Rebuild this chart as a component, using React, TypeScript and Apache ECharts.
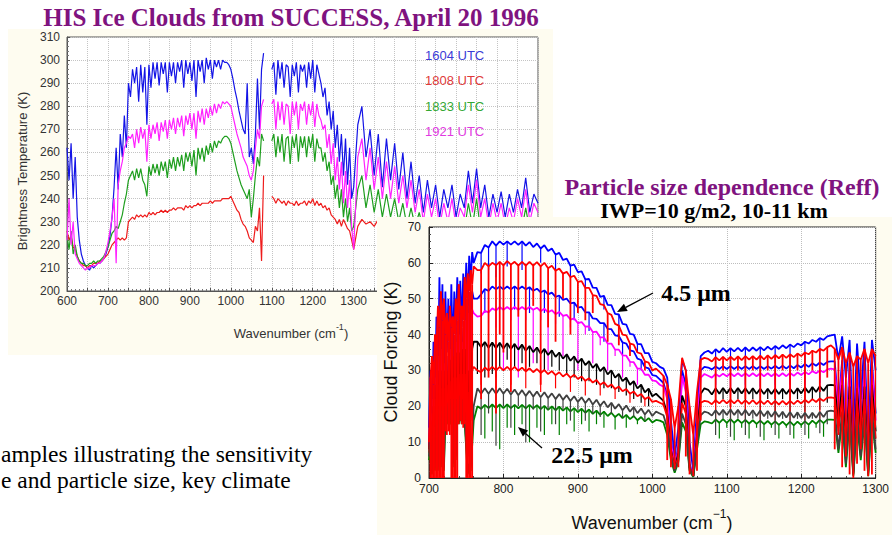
import React, { useEffect, useRef } from "react";
import * as echarts from "echarts";

// ---------- Chart 1: HIS brightness temperature spectra ----------
const wn1 = [
  600, 605, 610, 615, 620, 625, 630, 635, 640, 645,
  650, 655, 660, 665, 670, 675, 680, 685, 690, 695,
  700, 705, 710, 715, 720, 725, 730, 735, 740, 745,
  750, 755, 760, 765, 770, 775, 780, 785, 790, 795,
  800, 805, 810, 815, 820, 825, 830, 835, 840, 845,
  850, 855, 860, 865, 870, 875, 880, 885, 890, 895,
  900, 905, 910, 915, 920, 925, 930, 935, 940, 945,
  950, 955, 960, 965, 970, 975, 980, 985, 990, 995,
  1000, 1005, 1010, 1015, 1020, 1025, 1030, 1035, 1040, 1045,
  1050, 1055, 1060, 1065, 1070, 1075, 1080, 1085, 1090, 1095,
  1100, 1105, 1110, 1115, 1120, 1125, 1130, 1135, 1140, 1145,
  1150, 1155, 1160, 1165, 1170, 1175, 1180, 1185, 1190, 1195,
  1200, 1205, 1210, 1215, 1220, 1225, 1230, 1235, 1240, 1245,
  1250, 1255, 1260, 1265, 1270, 1275, 1280, 1285, 1290, 1295,
  1300,
  1310, 1320, 1330, 1340, 1350, 1360, 1370, 1380, 1390, 1400,
  1410, 1420, 1430, 1440, 1450, 1460, 1470, 1480, 1490, 1500,
  1510, 1520, 1530, 1540, 1550, 1560, 1570, 1580, 1590, 1600,
  1610, 1620, 1630, 1640, 1650, 1660, 1670, 1680, 1690, 1700,
  1710, 1720, 1730, 1740, 1750,
];

const bt1604 = [
  262, 248, 264, 240, 258, 232, 222, 216, 213, 211,
  210, 209, 211, 210, 211, 212, 212, 213, 214, 216,
  219, 224, 232, 245, 262, 244, 268, 258, 276, 262,
  290, 284, 296, 290, 297, 282, 298, 286, 297, 272,
  298, 288, 299, 292, 299, 289, 299, 294, 299, 286,
  299, 293, 299, 290, 299, 295, 300, 288, 300, 294,
  299, 291, 300, 284, 300, 295, 300, 290, 301, 296,
  300, 292, 300, 297, 300, 296, 300, 299, 299, 298,
  296, 292, 287, 283, 278, 274, 270, 268, 290, 258,
  262, 255, 268, 292, 270, 296, 303, null, null, null,
  296, 299, 285, 300, 292, 299, 288, 298, 297, 284,
  298, 293, 299, 286, 298, 295, 298, 288, 299, 292,
  300, 286, 298, 294, 290, 284, 288, 276, 282, 270,
  278, 262, 272, 256, 268, 250, 266, 246, 262, 240,
  245,
  272, 280, 258, 270, 250, 268, 245, 266, 248, 264,
  244, 260, 240, 256, 238, 250, 234, 248, 236, 246,
  232, 244, 236, 246, 232, 242, 236, 252, 238, 253,
  236, 246, 232, 242, 234, 243, 232, 242, 234, 244,
  236, 249, 234, 242, 238,
];

const bt1808 = [
  226, 222, 224, 219, 218, 215, 213, 212, 211, 211,
  210, 211, 211, 212, 212, 212, 213, 213, 214, 215,
  216, 218, 220, 221, 222, 223, 222, 223, 222, 223,
  230, 231, 232, 231, 233, 232, 233, 232, 233, 232,
  234, 233, 234, 233, 234, 234, 235, 234, 235, 234,
  235, 235, 236, 235, 236, 236, 236, 235, 237, 236,
  237, 236, 237, 237, 238, 237, 238, 238, 238, 238,
  239, 238, 239, 239, 239, 239, 240, 240, 240, 240,
  241, 239, 237, 235, 234, 231, 229, 228, 226, 223,
  222, 221, 228, 226, 236, 213, 250, null, null, null,
  241, 240, 238, 240, 239, 238, 239, 237, 239, 238,
  238, 237, 239, 237, 238, 238, 239, 237, 239, 238,
  240, 237, 239, 237, 238, 236, 237, 235, 236, 233,
  232, 231, 229, 231, 228, 231, 229, 227, 226, 222,
  218,
  228, 231, 229, 230, 228, 231, 229, 232, 228, 230,
  229, 231, 228, 230, 229, 231, 228, 230, 229, 231,
  228, 230, 229, 231, 228, 230, 229, 232, 228, 231,
  229, 230, 228, 231, 229, 230, 228, 231, 229, 230,
  228, 231, 229, 230, 229,
];

const bt1833 = [
  224, 218, 226, 216, 220, 215, 213, 212, 212, 211,
  211, 212, 212, 213, 212, 213, 213, 214, 215, 217,
  219, 222, 225, 226, 228, 227, 230, 233, 238, 242,
  248, 250, 252, 248, 253, 249, 253, 248, 246, 241,
  254, 250, 255, 251, 255, 250, 256, 252, 256, 249,
  257, 253, 258, 252, 258, 254, 259, 252, 260, 256,
  260, 254, 261, 250, 262, 257, 262, 256, 263, 259,
  264, 260, 265, 262, 265, 264, 266, 267, 267, 266,
  264, 260, 256, 252, 249, 246, 244, 242, 240, 244,
  232, 240, 250, 258, 254, 268, 265, null, null, null,
  265, 268, 258, 267, 260, 268, 256, 266, 267, 255,
  267, 262, 268, 256, 267, 262, 267, 258, 267, 262,
  268, 256, 266, 262, 262, 256, 260, 252, 256, 246,
  250, 240, 246, 236, 244, 232, 240, 230, 236, 226,
  228,
  244, 250, 236, 246, 234, 244, 232, 242, 232, 240,
  230, 238, 228, 236, 228, 234, 226, 232, 226, 232,
  224, 230, 224, 232, 224, 230, 226, 238, 228, 240,
  226, 232, 224, 230, 226, 230, 224, 230, 226, 232,
  226, 236, 226, 230, 228,
];

const bt1921 = [
  222, 240, 220, 230, 216, 214, 212, 211, 210, 209,
  210, 210, 211, 211, 211, 212, 212, 213, 214, 217,
  221, 226, 232, 240, 212, 246, 252, 256, 262, 264,
  267, 266, 268, 262, 270, 264, 271, 266, 270, 256,
  272, 266, 272, 268, 273, 265, 273, 269, 274, 266,
  274, 270, 275, 268, 275, 271, 276, 267, 276, 272,
  277, 270, 277, 266, 278, 273, 279, 272, 279, 275,
  280, 276, 281, 277, 281, 279, 282, 281, 282, 281,
  280, 276, 272, 268, 265, 262, 258, 256, 254, 250,
  248, 252, 262, 270, 266, 280, 283, null, null, null,
  281, 283, 270, 282, 274, 282, 272, 281, 280, 268,
  282, 276, 282, 270, 281, 278, 282, 272, 281, 276,
  282, 271, 281, 276, 274, 270, 272, 262, 268, 255,
  264, 248, 258, 244, 256, 238, 252, 236, 248, 228,
  218,
  258, 266, 248, 262, 244, 258, 240, 256, 240, 254,
  238, 250, 236, 248, 234, 244, 230, 242, 232, 240,
  228, 238, 230, 240, 228, 236, 232, 246, 234, 248,
  232, 240, 228, 238, 230, 238, 228, 236, 230, 240,
  232, 244, 230, 238, 234,
];

const names1 = ["1604 UTC", "1808 UTC", "1833 UTC", "1921 UTC"];
const colors1 = ["#1414e6", "#ee1c1c", "#1e9e1e", "#ff22ff"];
const legendColors1 = ["#3b3bd6", "#e03a3a", "#34a834", "#e03ae0"];

// ---------- Chart 2: cloud forcing vs particle size ----------
const wn2 = [
  700, 702, 704, 706, 708, 710, 712, 714, 716, 718,
  720, 722, 724, 726, 728, 730, 732, 734, 736, 738,
  740, 742, 744, 746, 748, 750, 752, 754, 756, 758,
  760,
  765, 770, 775, 780, 785, 790, 795, 800, 805, 810,
  815, 820, 825, 830, 835, 840, 845, 850, 855, 860,
  865, 870, 875, 880, 885, 890, 895, 900, 905, 910,
  915, 920, 925, 930, 935, 940, 945, 950, 955, 960,
  965, 970, 975, 980, 985, 990, 995, 1000,
  1005, 1010, 1015, 1020, 1025, 1030, 1035, 1040, 1045, 1050,
  1055, 1060, 1065, 1070,
  1075, 1080, 1085, 1090, 1095, 1100, 1105, 1110, 1115, 1120,
  1125, 1130, 1135, 1140, 1145, 1150, 1155, 1160, 1165, 1170,
  1175, 1180, 1185, 1190, 1195, 1200, 1205, 1210, 1215, 1220,
  1225, 1230, 1235, 1240,
  1245, 1250, 1255, 1260, 1265, 1270, 1275, 1280, 1285, 1290,
  1295, 1300,
];

const cf1 = [
  14, 30, 12, 38, 20, 45, 25, 56, 30, 54, 28, 52, 35, 50, 30, 54, 34, 52, 40, 56, 38, 55, 42, 57, 45, 60, 48, 62, 55, 63, 60,
  63, 62.8, 65, 64.3, 66, 64.8, 66, 65.1, 66, 65.1, 66, 65, 66, 64.8, 65.8, 64.4, 65.4, 64, 64.9, 63.3, 64, 62.3, 62.8, 60.8, 61.2, 59.2, 59.5, 57.4, 57.6, 55.4,
  55.5, 53.1, 53, 50.5, 50.8, 48.3, 48.2, 45.8, 45.6, 43, 42.8, 40.2, 40, 37.4, 37.3, 34.8, 34.8, 32.4,
  32, 31, 30.5, 28, 16, 6, 14, 33, 30, 10, 2, 20, 34, 35,
  35.5, 34.7, 35.9, 35, 36.2, 35.2, 36.2, 35.3, 36.3, 35.3, 36.4, 35.4, 36.4, 35.5, 36.5, 35.6, 36.6, 35.8, 36.8, 36, 37, 36.2, 37.2, 36.5, 37.5, 37, 38, 37.5, 38.5, 38, 39, 38.5, 39.5, 39.8,
  40, 33, 39.5, 28, 38.5, 10, 37.5, 22, 38, 8, 38.5, 30,
];
const cf2 = [
  10, 28, 34, 26, 40, 36, 48, 42, 52, 44, 50, 40, 46, 38, 48, 42, 45, 40, 50, 44, 54, 46, 48, 44, 56, 50, 57, 52, 58, 54, 59,
  58, 58, 60, 59, 60, 59.3, 60.3, 59.3, 60.5, 59.5, 60.3, 59.2, 60.3, 59.2, 60.3, 59.2, 60.2, 59, 60, 58.5, 59.2, 57.8, 58.4, 57, 57.5, 56, 56.4, 54.7, 54.9, 53,
  53, 51, 50.8, 48.5, 48.2, 46, 45.5, 43, 42.5, 40, 39.8, 37.5, 37.2, 35, 34.7, 32.5, 32.2, 30,
  30.5, 29.5, 28.5, 26, 22, 14, 20, 33.5, 30, 20, 12, 24, 33, 33.5,
  33.2, 32.5, 33.7, 32.8, 33.8, 32.8, 33.8, 32.9, 33.9, 32.9, 34, 33, 34, 33, 34.1, 33.1, 34.2, 33.2, 34.3, 33.4, 34.4, 33.5, 34.5, 33.7, 34.7, 34, 35, 34.5, 35.5, 35, 36, 35.5, 36.5, 37,
  36, 33, 36.5, 32, 35, 31, 34, 33, 36, 32, 36, 34,
];
const cf3 = [
  10, 20, 8, 24, 10, 30, 14, 38, 18, 40, 16, 36, 20, 34, 18, 40, 18, 38, 22, 42, 20, 44, 24, 42, 26, 48, 20, 50, 30, 52, 50,
  50, 51.2, 52.7, 52.2, 53.4, 52.6, 53.4, 52.6, 53.4, 52.6, 53.4, 52.6, 53.4, 52.6, 53.2, 52.2, 52.8, 51.8, 52.3, 51.2, 51.7, 50.5, 50.9, 49.7, 50, 48.7, 48.9, 47.5, 47.7, 46.2,
  46.2, 44.5, 44.4, 43.2, 43.2, 41.6, 41.5, 39.8, 39.6, 37.8, 37.5, 35.6, 35.3, 33.3, 32.9, 30.9, 30.6, 28.7,
  28.5, 27.5, 26.5, 23, 11, 3, 9, 30, 26, 4, 0.5, 16, 30, 31,
  30.8, 30.3, 31.1, 30.4, 31.2, 30.4, 31.2, 30.4, 31.2, 30.4, 31.2, 30.4, 31.2, 30.4, 31.2, 30.4, 31.2, 30.5, 31.3, 30.5, 31.3, 30.5, 31.4, 30.6, 31.5, 30.8, 31.8, 31, 32, 31.3, 32.2, 31.5, 32.4, 32.5,
  32.5, 20, 32.8, 10, 32, 2, 31, 14, 32, 3, 32.5, 18,
];
const cf4 = [
  9, 18, 6, 22, 8, 28, 10, 34, 12, 36, 10, 32, 16, 30, 16, 36, 12, 34, 16, 38, 16, 40, 18, 38, 20, 44, 16, 46, 24, 47, 46,
  45, 45.2, 46.6, 46.2, 47.3, 46.7, 47.7, 46.9, 47.7, 46.9, 47.7, 46.9, 47.7, 46.9, 47.7, 46.9, 47.5, 46.5, 47.2, 46.2, 46.8, 45.7, 46.3, 45.2, 45.5, 44.2, 44.5, 43.2, 43.5, 42.2,
  42.3, 40.7, 40.8, 39.2, 39.2, 37.5, 37.5, 35.8, 35.8, 34.2, 34.1, 32.4, 32.3, 30.5, 30.5, 28.8, 28.8, 27.2,
  27, 26, 25.5, 22, 10, 3, 8, 28.5, 24, 3.5, 0.5, 15, 28, 29,
  28.5, 28, 29, 28.3, 29.1, 28.4, 29.2, 28.4, 29.2, 28.4, 29.2, 28.4, 29.2, 28.4, 29.2, 28.4, 29.2, 28.4, 29.2, 28.4, 29.2, 28.4, 29.3, 28.5, 29.4, 28.7, 29.6, 28.9, 29.8, 29.2, 30, 29.5, 30.3, 30.5,
  30.3, 18, 30.5, 9, 29.8, 2, 29, 12, 30, 3, 30.5, 16,
];
const cf5 = [
  8, 16, 4, 20, 6, 26, 6, 30, 8, 30, 6, 30, 16, 30, 16, 33, 8, 34, 10, 35, 16, 35, 16, 36, 16, 36, 6, 30, 20, 36, 38,
  38, 36.5, 37.9, 36.3, 37.8, 36.2, 37.7, 36.1, 37.6, 36, 37.4, 35.8, 37.2, 35.5, 36.8, 35.1, 36.4, 34.7, 36, 34.3, 35.6, 33.8, 35, 33.3, 34.5, 32.7, 33.9, 32.1, 33.3, 31.5,
  32.6, 30.7, 31.8, 29.8, 30.9, 28.9, 30, 28, 29, 27, 28, 26, 27, 25, 26, 23.9, 24.9, 22.8,
  23.5, 22.5, 21.5, 18, 8, 2.5, 7, 23, 20, 3, 0.5, 12, 23.5, 25,
  24.6, 23.3, 25, 23.5, 25.1, 23.6, 25.1, 23.6, 25.1, 23.6, 25, 23.5, 25, 23.5, 24.9, 23.4, 24.9, 23.4, 24.9, 23.4, 24.9, 23.4, 24.9, 23.5, 25, 23.6, 25.2, 23.8, 25.4, 24, 25.6, 24.3, 25.8, 26,
  25.8, 15, 26, 7, 25.5, 1.5, 25, 10, 25.5, 2, 26, 13,
];
const cf6 = [
  7, 15, 3, 18, 4, 22, 4, 26, 6, 25, 4, 25, 16, 26, 16, 27, 6, 28, 8, 28, 16, 29, 16, 29, 16, 29, 4, 24, 16, 30, 31,
  30, 29.5, 30.8, 30, 31, 30, 31, 30, 31, 30, 31, 29.9, 30.8, 29.7, 30.6, 29.5, 30.4, 29.3, 30.1, 29, 29.8, 28.7, 29.5, 28.3, 29.1, 28, 28.8, 27.6, 28.3, 27.1,
  27.8, 26.6, 27.3, 26, 26.7, 25.4, 26.1, 24.8, 25.5, 24.2, 24.8, 23.5, 24.1, 22.8, 23.4, 22, 22.6, 21.2,
  21.5, 21, 20.5, 17, 7.5, 2.5, 6, 21, 18, 3, 0.5, 11, 21, 21.5,
  21.3, 20.6, 21.7, 20.8, 21.8, 20.8, 21.8, 20.8, 21.8, 20.7, 21.7, 20.7, 21.7, 20.6, 21.6, 20.6, 21.6, 20.5, 21.5, 20.5, 21.5, 20.5, 21.5, 20.6, 21.6, 20.8, 21.8, 21, 22, 21.2, 22.2, 21.5, 22.4, 22.5,
  22.3, 13, 22.5, 6, 22, 1, 21.5, 9, 22, 1.5, 22.5, 11,
];
const cf7 = [
  6, 12, 2, 15, 3, 18, 3, 20, 4, 20, 3, 20, 16, 21, 16, 22, 4, 22, 6, 22, 16, 23, 16, 22, 16, 10, 2, 4, 3, 12, 20,
  25, 23.5, 25, 23.5, 25, 23.5, 25, 23.5, 24.9, 23.3, 24.7, 23.1, 24.5, 22.9, 24.3, 22.7, 24.1, 22.5, 23.9, 22.3, 23.6, 22, 23.4, 21.8, 23.1, 21.5, 22.8, 21.2, 22.5, 20.9,
  22.2, 20.5, 21.8, 20.1, 21.4, 19.7, 21, 19.3, 20.6, 18.9, 20.2, 18.5, 19.8, 18.1, 19.4, 17.7, 19, 17.3,
  18.5, 18, 17.5, 14, 6, 2, 5, 18, 15, 2.5, 0.5, 9, 17.5, 18.5,
  18.2, 17.4, 18.9, 17.6, 19, 17.6, 19.1, 17.6, 19, 17.5, 19, 17.4, 18.9, 17.3, 18.8, 17.2, 18.7, 17.1, 18.6, 17, 18.5, 16.9, 18.4, 16.8, 18.3, 16.7, 18.2, 16.7, 18.2, 16.8, 18.4, 17, 18.6, 18.8,
  18.6, 8, 18.5, 4, 18, 1, 17.5, 6, 18, 1, 18.5, 8,
];
const cf8 = [
  5, 10, 1, 12, 2, 15, 2, 16, 3, 16, 2, 16, 15, 17, 15, 18, 3, 18, 5, 18, 15, 18, 15, 18, 15, 8, 1, 3, 2, 9, 16,
  20, 19.3, 20.4, 19.5, 20.5, 19.5, 20.5, 19.5, 20.5, 19.5, 20.4, 19.4, 20.4, 19.4, 20.4, 19.4, 20.3, 19.2, 20.1, 19, 20, 18.9, 19.9, 18.8, 19.7, 18.6, 19.5, 18.4, 19.3, 18.2,
  19.1, 17.9, 18.8, 17.6, 18.5, 17.3, 18.2, 17, 17.9, 16.7, 17.6, 16.4, 17.3, 16.1, 17, 15.8, 16.7, 15.5,
  16.2, 16, 15.5, 12, 5, 1.5, 4.5, 15.5, 13, 2, 0.3, 8, 15, 15.8,
  15.6, 15.2, 16.3, 15.4, 16.4, 15.4, 16.4, 15.4, 16.3, 15.3, 16.2, 15.2, 16.1, 15.1, 16, 15, 15.9, 14.9, 15.8, 14.8, 15.7, 14.7, 15.7, 14.7, 15.7, 14.8, 15.8, 14.9, 16, 15.1, 16.2, 15.3, 16.3, 16.3,
  16.2, 7, 16, 3, 15.6, 0.5, 15.2, 5, 15.6, 0.5, 16, 7,
];

// absorption lines: [wavenumber, bottom of the line] for each curve
const dips1 = [[770, 57], [780, 58], [790, 56], [805, 59], [825, 58], [850, 60], [870, 58], [890, 56], [910, 53], [935, 47], [955, 42], [980, 35],
  [1085, 31], [1105, 31], [1125, 32], [1145, 31], [1165, 32], [1185, 31.5], [1205, 32], [1225, 33]];
const dips2 = [
  [702, 0], [704, 0], [706, 0], [708, 0], [710, 0], [712, 0], [714, 0], [716, 0], [718, 0], [720, 0],
  [722, 13], [724, 12], [726, 13], [728, 12], [730, 0], [732, 0], [734, 0], [736, 0], [738, 0],
  [740, 15], [742, 16], [744, 15], [746, 14], [748, 15], [750, 0], [752, 0], [754, 0], [756, 0], [758, 0],
  [770, 22], [780, 28], [790, 18], [795, 40], [800, 35], [810, 24], [820, 45], [830, 30], [840, 48], [850, 26], [860, 42], [870, 38], [880, 50], [890, 40], [900, 46], [910, 44], [920, 46], [940, 38], [955, 37], [970, 34], [990, 30],
  [1015, 20], [1020, 5], [1025, 3], [1030, 2.5], [1035, 3], [1045, 6], [1050, 1], [1055, 0.5], [1060, 2], [1065, 16],
  [1085, 21], [1095, 30], [1105, 20], [1115, 30], [1125, 22], [1135, 30], [1145, 21], [1155, 30], [1165, 22], [1175, 30], [1185, 21.5], [1195, 30], [1205, 22], [1215, 30], [1225, 24], [1235, 28],
  [1245, 8], [1250, 12], [1255, 3], [1260, 6], [1265, 1], [1270, 0], [1275, 4], [1280, 8], [1285, 2], [1290, 0.5], [1295, 1], [1300, 14],
];
const dips3 = [[775, 46], [795, 47], [815, 47], [835, 46], [855, 46], [875, 45], [895, 44], [915, 41], [935, 38], [960, 34], [985, 30],
  [1085, 26], [1105, 25.5], [1125, 26], [1145, 25.5], [1165, 26], [1185, 26], [1205, 26], [1225, 26.5]];
const dips4 = [[790, 42], [800, 30], [810, 44], [820, 28], [830, 44], [840, 32], [850, 44], [860, 30], [870, 43], [880, 34], [890, 42], [900, 30], [910, 40], [920, 32], [930, 37], [940, 30], [950, 34], [960, 28], [970, 31], [980, 26],
  [1085, 23.5], [1105, 23], [1125, 23.5], [1145, 23], [1165, 23.5], [1185, 23.5], [1205, 23.5], [1225, 24]];
const dips5 = [[765, 29], [770, 30], [775, 28], [780, 30], [785, 29], [790, 28], [795, 31], [805, 33], [815, 31], [825, 32], [835, 31], [845, 32], [855, 30], [865, 31], [875, 30], [885, 29], [895, 28], [905, 27], [915, 27], [925, 26], [935, 25], [945, 25], [955, 24], [965, 23], [975, 22], [985, 21], [995, 20],
  [1085, 18.5], [1095, 22], [1105, 18], [1115, 22], [1125, 18.5], [1135, 22], [1145, 18], [1155, 22], [1165, 18.5], [1175, 22], [1185, 18.5], [1195, 22], [1205, 18.5], [1215, 22], [1225, 19], [1235, 21]];
const dips6 = [[770, 26], [790, 25], [810, 26], [830, 25], [850, 24], [870, 25], [890, 24], [910, 23], [930, 23], [950, 22], [970, 21], [990, 20],
  [1085, 16], [1105, 15.5], [1125, 16], [1145, 15.5], [1165, 16], [1185, 16], [1205, 16], [1225, 16.5]];
const dips7 = [[770, 12], [780, 18], [790, 9], [800, 20], [810, 14], [820, 20], [830, 10], [840, 19], [850, 13], [860, 19], [870, 15], [880, 19], [890, 16], [900, 19], [910, 16], [920, 18], [930, 17], [945, 18], [960, 17], [975, 17], [990, 16],
  [1085, 12], [1095, 16.5], [1105, 11.5], [1115, 16.5], [1125, 12], [1135, 16.5], [1145, 11.5], [1155, 16.5], [1165, 12], [1175, 16.5], [1185, 12], [1195, 16.5], [1205, 12], [1215, 16.5], [1225, 12.5], [1235, 15]];
const dips8 = [[775, 11], [785, 13], [795, 8], [805, 14], [815, 12], [825, 15], [835, 10], [845, 14], [855, 12], [865, 15], [875, 12], [885, 15], [895, 13], [905, 15], [915, 13], [925, 15], [935, 14], [950, 13.5], [965, 14], [980, 15],
  [1090, 11], [1100, 14], [1110, 10.5], [1120, 14], [1130, 11], [1140, 14], [1150, 10.5], [1160, 14], [1170, 11], [1180, 14], [1190, 11], [1200, 14], [1210, 11], [1220, 14], [1230, 11.5]];

// drawing order (bottom to top) and colours
const series2 = [
  { name: "4.5 μm", data: cf1, dips: dips1, color: "#0000ff", dipWidth: 1.2 },
  { name: "size 3", data: cf3, dips: dips3, color: "#0000ff", dipWidth: 1.2 },
  { name: "size 4", data: cf4, dips: dips4, color: "#ff00ff", dipWidth: 1.2 },
  { name: "size 5", data: cf5, dips: dips5, color: "#000000", dipWidth: 1.2 },
  { name: "size 6", data: cf6, dips: dips6, color: "#ff0000", dipWidth: 1.2 },
  { name: "22.5 μm", data: cf8, dips: dips8, color: "#008000", dipWidth: 1.2 },
  { name: "size 7", data: cf7, dips: dips7, color: "#404040", dipWidth: 1.2 },
  { name: "size 2", data: cf2, dips: dips2, color: "#ff0000", dipWidth: 1.8 },
];

const SANS = "'Liberation Sans', Arial, sans-serif";
const SERIF = "'Liberation Serif', 'Times New Roman', serif";
const CREAM = "#fefcf0";

function pairs(xs: number[], ys: (number | null)[]) {
  return xs.map((x, i) => [x, ys[i] === null || ys[i] === undefined ? "-" : ys[i]]);
}

function txt(x: number, y: number, text: string, font: string, fill: string, z: number, align = "center") {
  return {
    type: "text",
    x,
    y,
    z,
    style: { text, font, fill, align, verticalAlign: "middle", textAlign: align, textVerticalAlign: "middle" },
  };
}

function dipSeries(s: { name: string; data: number[]; dips: number[][]; color: string; dipWidth: number }, z: number) {
  return {
    type: "custom",
    name: s.name + " lines",
    xAxisIndex: 1,
    yAxisIndex: 1,
    z,
    clip: true,
    silent: true,
    data: s.dips.map(([x, b]) => [x, s.data[wn2.indexOf(x)], b]),
    encode: { x: 0, y: [1, 2] },
    renderItem: (_p: any, api: any) => {
      const a = api.coord([api.value(0), api.value(1)]);
      const b = api.coord([api.value(0), api.value(2)]);
      return { type: "line", shape: { x1: a[0], y1: a[1], x2: b[0], y2: b[1] }, style: { stroke: s.color, lineWidth: s.dipWidth } };
    },
  };
}

export default function App() {
  const ref = useRef<HTMLDivElement>(null);
  useEffect(() => {
    const chart = echarts.init(ref.current!, null, { renderer: "svg" });
    const data1 = [bt1604, bt1808, bt1833, bt1921];
    const series2All: any[] = [];
    series2.forEach((s, k) => {
      series2All.push({
        type: "line",
        name: s.name,
        xAxisIndex: 1,
        yAxisIndex: 1,
        z: 20 + 2 * k,
        data: pairs(wn2, s.data),
        showSymbol: false,
        symbol: "none",
        lineStyle: { color: s.color, width: 1.8 },
        itemStyle: { color: s.color },
      });
      series2All.push(dipSeries(s, 21 + 2 * k));
    });
    const option: any = {
      animation: false,
      backgroundColor: "#ffffff",
      grid: [
        { left: 67, top: 37, width: 471, height: 254, show: true, backgroundColor: "#ffffff", borderColor: "#555", borderWidth: 1, z: 1 },
        { left: 429, top: 227, width: 452, height: 251, show: true, backgroundColor: "#ffffff", borderColor: "#222", borderWidth: 1, z: 15 },
      ],
      xAxis: [
        {
          gridIndex: 0, type: "value", min: 600, max: 1750, interval: 50, z: 2,
          axisLine: { show: true, lineStyle: { color: "#555" } },
          axisTick: { show: true, inside: true, length: 3, lineStyle: { color: "#555" } },
          minorTick: { show: true, splitNumber: 5, length: 2, lineStyle: { color: "#777" } },
          axisLabel: { color: "#333", fontSize: 12, fontFamily: SANS, margin: 4, formatter: (v: number) => (v % 100 === 0 ? String(v) : "") },
          splitLine: { show: true, lineStyle: { color: "#c4c4c4", type: "dotted" } },
        },
        {
          gridIndex: 1, type: "value", min: 700, max: 1300, interval: 100, z: 16,
          axisLine: { show: true, lineStyle: { color: "#222" } },
          axisTick: { show: true, inside: true, length: 4, lineStyle: { color: "#222" } },
          minorTick: { show: true, splitNumber: 5, length: 2, lineStyle: { color: "#444" } },
          axisLabel: { color: "#222", fontSize: 12, fontFamily: SANS, margin: 5, formatter: (v: number) => String(v) },
          splitLine: { show: true, lineStyle: { color: "#bdbdbd", type: "dotted" } },
        },
      ],
      yAxis: [
        {
          gridIndex: 0, type: "value", min: 200, max: 310, interval: 10, z: 2,
          axisLine: { show: true, lineStyle: { color: "#555" } },
          axisTick: { show: true, inside: true, length: 3, lineStyle: { color: "#555" } },
          minorTick: { show: true, splitNumber: 5, length: 2, lineStyle: { color: "#777" } },
          axisLabel: { color: "#333", fontSize: 12, fontFamily: SANS, margin: 7 },
          splitLine: { show: true, lineStyle: { color: "#c4c4c4", type: "dotted" } },
        },
        {
          gridIndex: 1, type: "value", min: 0, max: 70, interval: 10, z: 16,
          axisLine: { show: true, lineStyle: { color: "#222" } },
          axisTick: { show: true, inside: true, length: 4, lineStyle: { color: "#222" } },
          minorTick: { show: true, splitNumber: 5, length: 2, lineStyle: { color: "#444" } },
          axisLabel: { color: "#222", fontSize: 12, fontFamily: SANS, margin: 8 },
          splitLine: { show: true, lineStyle: { color: "#bdbdbd", type: "dotted" } },
        },
      ],
      series: [
        ...[0, 1, 2, 3].map((i) => ({
          type: "line",
          name: names1[i],
          xAxisIndex: 0,
          yAxisIndex: 0,
          z: 3,
          data: pairs(wn1, data1[i]),
          showSymbol: false,
          symbol: "none",
          connectNulls: false,
          lineStyle: { color: colors1[i], width: 1.2 },
          itemStyle: { color: colors1[i] },
        })),
        ...series2All,
      ],
      graphic: {
        elements: [
          { type: "rect", z: 0, shape: { x: 8, y: 29, width: 545, height: 326 }, style: { fill: CREAM } },
          { type: "rect", z: 10, shape: { x: 377, y: 217, width: 515, height: 318 }, style: { fill: CREAM } },
          // titles
          txt(291, 17, "HIS Ice Clouds from SUCCESS, April 20 1996", `bold 25px ${SERIF}`, "#7f137f", 60),
          txt(722, 187, "Particle size dependence (Reff)", `bold 24px ${SERIF}`, "#7f137f", 60),
          txt(714, 210, "IWP=10 g/m2, 10-11 km", `bold 22px ${SERIF}`, "#000000", 60),
          // legend chart 1
          ...names1.map((n, i) => txt(425, [55, 80, 106, 131][i], n, `13px ${SANS}`, legendColors1[i], 5, "left")),
          // axis titles chart 1
          {
            type: "text", x: 22, y: 171, rotation: Math.PI / 2, z: 5,
            style: { text: "Brightness Temperature (K)", font: `13px ${SANS}`, fill: "#333", align: "center", verticalAlign: "middle", textAlign: "center", textVerticalAlign: "middle" },
          },
          {
            type: "text", x: 291, y: 331, z: 5,
            style: {
              text: "{a|Wavenumber (cm}{b|-1}{a|)}", align: "center", verticalAlign: "middle", textAlign: "center", textVerticalAlign: "middle",
              rich: {
                a: { font: `13px ${SANS}`, fill: "#333", color: "#333", lineHeight: 18, verticalAlign: "bottom" },
                b: { font: `9px ${SANS}`, fill: "#333", color: "#333", lineHeight: 18, verticalAlign: "top" },
              },
            },
          },
          // axis titles chart 2
          {
            type: "text", x: 391, y: 352, rotation: Math.PI / 2, z: 60,
            style: { text: "Cloud Forcing (K)", font: `18px ${SANS}`, fill: "#111", align: "center", verticalAlign: "middle", textAlign: "center", textVerticalAlign: "middle" },
          },
          {
            type: "text", x: 652, y: 520, z: 60,
            style: {
              text: "{a|Wavenumber (cm}{b|−1}{a|)}", align: "center", verticalAlign: "middle", textAlign: "center", textVerticalAlign: "middle",
              rich: {
                a: { font: `18px ${SANS}`, fill: "#111", color: "#111", lineHeight: 24, verticalAlign: "bottom" },
                b: { font: `12px ${SANS}`, fill: "#111", color: "#111", lineHeight: 24, verticalAlign: "top" },
              },
            },
          },
          // annotations
          txt(696, 293, "4.5 μm", `bold 24px ${SERIF}`, "#000", 60),
          { type: "line", z: 60, shape: { x1: 653, y1: 293, x2: 625.8, y2: 307.3 }, style: { stroke: "#000", lineWidth: 1.3 } },
          { type: "polygon", z: 60, shape: { points: [[617, 312], [627.7, 310.9], [623.9, 303.8]] }, style: { fill: "#000" } },
          txt(592, 455, "22.5 μm", `bold 24px ${SERIF}`, "#000", 60),
          { type: "line", z: 60, shape: { x1: 542, y1: 448, x2: 525.5, y2: 433.6 }, style: { stroke: "#000", lineWidth: 1.3 } },
          { type: "polygon", z: 60, shape: { points: [[518, 427], [528.1, 430.6], [522.9, 436.6]] }, style: { fill: "#000" } },
          // slide body text
          txt(1, 454, "amples illustrating the sensitivity", `23.5px ${SERIF}`, "#000", 1, "left"),
          txt(1, 480, "e and particle size, key climate", `23.5px ${SERIF}`, "#000", 1, "left"),
        ],
      },
    };
    chart.setOption(option);
    return () => chart.dispose();
  }, []);
  return <div ref={ref} style={{ position: "fixed", left: 0, top: 0, width: 892, height: 535, background: "#fff" }} />;
}
